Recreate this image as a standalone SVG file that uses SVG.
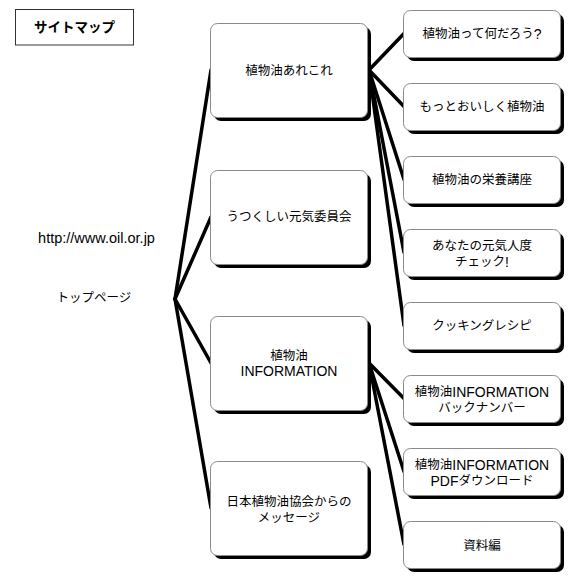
<svg xmlns="http://www.w3.org/2000/svg" width="580" height="580" viewBox="0 0 580 580">
<style>
text{font-family:"Liberation Sans","Noto Sans CJK JP",sans-serif;font-size:12.5px;fill:#000;text-anchor:middle;dominant-baseline:central}
.l{font-size:14px}
.title{font-weight:bold;font-size:13.5px}
.box{fill:#fff;stroke:#8a8a8a;stroke-width:1}
.sh{fill:#000}
.conn line{stroke:#000;stroke-width:3.5;stroke-linecap:round}
</style>
<rect width="580" height="580" fill="#fff"/>
<g id="title">
<rect x="15.5" y="9.5" width="118" height="35.5" fill="#fff" stroke="#333" stroke-width="1"/>
<text class="title" x="74.5" y="27.5">サイトマップ</text>
</g>
<g id="root">
<text class="l" x="96.5" y="237.5" style="font-size:14.5px">http://www.oil.or.jp</text>
<text x="94" y="298">トップページ</text>
</g>
<g class="conn" id="connectors">
<line x1="175" y1="299" x2="211" y2="70"/>
<line x1="175" y1="299" x2="211" y2="217"/>
<line x1="175" y1="299" x2="211" y2="363"/>
<line x1="175" y1="299" x2="211" y2="508"/>
<line x1="369" y1="70" x2="404" y2="33.5"/>
<line x1="369" y1="70" x2="404" y2="106.5"/>
<line x1="369" y1="70" x2="404" y2="179.5"/>
<line x1="369" y1="70" x2="404" y2="252.5"/>
<line x1="369" y1="70" x2="404" y2="325.5"/>
<line x1="369" y1="363" x2="404" y2="398.5"/>
<line x1="369" y1="363" x2="404" y2="471.5"/>
<line x1="369" y1="363" x2="404" y2="544.5"/>
</g>
<g id="n1">
<rect class="sh" x="214" y="27" width="157" height="94" rx="7"/>
<rect class="box" x="210.5" y="23.5" width="157" height="94" rx="7"/>
<text x="289" y="71">植物油あれこれ</text>
</g>
<g id="n2">
<rect class="sh" x="214" y="174" width="157" height="94" rx="7"/>
<rect class="box" x="210.5" y="170.5" width="157" height="94" rx="7"/>
<text x="289" y="217">うつくしい元気委員会</text>
</g>
<g id="n3">
<rect class="sh" x="214" y="320" width="157" height="94" rx="7"/>
<rect class="box" x="210.5" y="316.5" width="157" height="94" rx="7"/>
<text x="289" y="356">植物油</text>
<text class="l" x="289" y="371">INFORMATION</text>
</g>
<g id="n4">
<rect class="sh" x="214" y="465" width="157" height="94" rx="7"/>
<rect class="box" x="210.5" y="461.5" width="157" height="94" rx="7"/>
<text x="289" y="502">日本植物油協会からの</text>
<text x="289" y="518">メッセージ</text>
</g>
<g id="r1">
<rect class="sh" x="407" y="14" width="157" height="47" rx="7"/>
<rect class="box" x="403.5" y="10.5" width="157" height="47" rx="7"/>
<text x="482" y="34">植物油って何だろう<tspan class="l">?</tspan></text>
</g>
<g id="r2">
<rect class="sh" x="407" y="87" width="157" height="47" rx="7"/>
<rect class="box" x="403.5" y="83.5" width="157" height="47" rx="7"/>
<text x="482" y="107">もっとおいしく植物油</text>
</g>
<g id="r3">
<rect class="sh" x="407" y="160" width="157" height="47" rx="7"/>
<rect class="box" x="403.5" y="156.5" width="157" height="47" rx="7"/>
<text x="482" y="180">植物油の栄養講座</text>
</g>
<g id="r4">
<rect class="sh" x="407" y="233" width="157" height="47" rx="7"/>
<rect class="box" x="403.5" y="229.5" width="157" height="47" rx="7"/>
<text x="482" y="246">あなたの元気人度</text>
<text x="482" y="262">チェック<tspan class="l">!</tspan></text>
</g>
<g id="r5">
<rect class="sh" x="407" y="306" width="157" height="47" rx="7"/>
<rect class="box" x="403.5" y="302.5" width="157" height="47" rx="7"/>
<text x="482" y="326">クッキングレシピ</text>
</g>
<g id="r6">
<rect class="sh" x="407" y="379" width="157" height="47" rx="7"/>
<rect class="box" x="403.5" y="375.5" width="157" height="47" rx="7"/>
<text x="482" y="392">植物油<tspan class="l">INFORMATION</tspan></text>
<text x="482" y="408">バックナンバー</text>
</g>
<g id="r7">
<rect class="sh" x="407" y="452" width="157" height="47" rx="7"/>
<rect class="box" x="403.5" y="448.5" width="157" height="47" rx="7"/>
<text x="482" y="465">植物油<tspan class="l">INFORMATION</tspan></text>
<text x="482" y="481"><tspan class="l">PDF</tspan>ダウンロード</text>
</g>
<g id="r8">
<rect class="sh" x="407" y="525" width="157" height="47" rx="7"/>
<rect class="box" x="403.5" y="521.5" width="157" height="47" rx="7"/>
<text x="482" y="546">資料編</text>
</g>
</svg>
